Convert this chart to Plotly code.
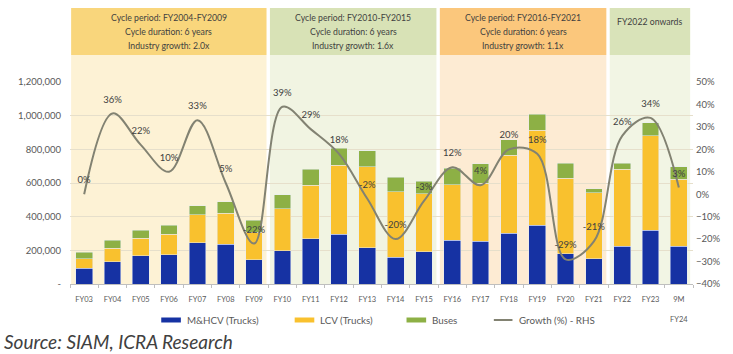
import plotly.graph_objects as go

# ---------------- data ----------------
categories = ["FY03", "FY04", "FY05", "FY06", "FY07", "FY08", "FY09", "FY10", "FY11",
              "FY12", "FY13", "FY14", "FY15", "FY16", "FY17", "FY18", "FY19", "FY20",
              "FY21", "FY22", "FY23", "9M<br><br>FY24"]
mhcv = [94000, 133000, 169000, 175000, 245000, 236000, 145000, 199000, 269000, 295000,
        215000, 159000, 193000, 259000, 253000, 302000, 349000, 179000, 149000, 225000,
        318000, 225000]
lcv = [55000, 80000, 104000, 122000, 167000, 183000, 163000, 249000, 318000, 411000,
       482000, 388000, 344000, 332000, 345000, 464000, 563000, 448000, 394000, 458000,
       562000, 398000]
buses = [40000, 46000, 45000, 51000, 52000, 69000, 70000, 83000, 96000, 100000,
         95000, 86000, 74000, 96000, 115000, 90000, 97000, 89000, 24000, 33000,
         79000, 74000]
growth = [0.00, 0.36, 0.22, 0.10, 0.33, 0.05, -0.22, 0.39, 0.29, 0.18, -0.02, -0.20,
          -0.03, 0.12, 0.04, 0.20, 0.18, -0.29, -0.21, 0.26, 0.34, 0.03]
growth_labels = ["0%", "36%", "22%", "10%", "33%", "5%", "-22%", "39%", "29%", "18%",
                 "-2%", "-20%", "-3%", "12%", "4%", "20%", "18%", "-29%", "-21%", "26%",
                 "34%", "3%"]
left_tickvals = [0, 200000, 400000, 600000, 800000, 1000000, 1200000]
left_ticktext = ["-", "200,000", "400,000", "600,000", "800,000", "1,000,000", "1,200,000"]
series_names = ["M&HCV (Trucks)", "LCV (Trucks)", "Buses", "Growth (%) - RHS"]
series_colors = ["#1632A3", "#F9C12E", "#8DB045", "#828272"]

cycles = [
    {"start": 0, "end": 6,
     "lines": ["Cycle period: FY2004-FY2009", "Cycle duration: 6 years", "Industry growth: 2.0x"],
     "head": "#F9D67C", "band": "#FDF2D5"},
    {"start": 7, "end": 12,
     "lines": ["Cycle period: FY2010-FY2015", "Cycle duration: 6 years", "Industry growth: 1.6x"],
     "head": "#D8E2B6", "band": "#F1F4E2"},
    {"start": 13, "end": 18,
     "lines": ["Cycle period: FY2016-FY2021", "Cycle duration: 6 years", "Industry growth: 1.1x"],
     "head": "#FBC77C", "band": "#FDEBD3"},
    {"start": 19, "end": 21,
     "lines": ["FY2022 onwards"],
     "head": "#D9E3B9", "band": "#F2F5E4"},
]

FONT = "Lato"
n = len(categories)

# plot area geometry (pixels) used to convert layout positions to paper coords
L, R, T, B, W, H = 70, 28, 82, 70, 733, 354
PW, PH = W - L - R, H - T - B


def px(xp):
    return (xp - L) / PW


def py(yp):
    return (T + PH - yp) / PH


fig = go.Figure()
fig.add_trace(go.Bar(x=categories, y=mhcv, name=series_names[0], marker_color=series_colors[0]))
fig.add_trace(go.Bar(x=categories, y=lcv, name=series_names[1], marker_color=series_colors[1]))
fig.add_trace(go.Bar(x=categories, y=buses, name=series_names[2], marker_color=series_colors[2]))
fig.add_trace(go.Scatter(x=categories, y=growth, name=series_names[3], yaxis="y2",
                         mode="lines+markers+text", text=growth_labels, textposition="top center",
                         textfont=dict(family=FONT, size=9.5, color="#404040"),
                         marker=dict(size=12, color="rgba(0,0,0,0)"),
                         line=dict(color=series_colors[3], width=2, shape="spline", smoothing=1.0)))

shapes = []
annotations = []
gap = 0.06
line_y = [1.317, 1.25, 1.183]
for k, c in enumerate(cycles):
    x0 = (c["start"] + (gap if k > 0 else 0.04)) / n
    x1 = (c["end"] + 1 - gap) / n
    if k == len(cycles) - 1:
        x1 = (c["end"] + 1 - 0.1) / n
    shapes.append(dict(type="rect", xref="paper", yref="paper", x0=x0, x1=x1, y0=1.134, y1=1.366,
                       fillcolor=c["head"], line=dict(width=0), layer="below"))
    shapes.append(dict(type="rect", xref="paper", yref="paper", x0=x0, x1=x1, y0=0, y1=1.134,
                       fillcolor=c["band"], line=dict(width=0), layer="below"))
    for j, txt in enumerate(c["lines"]):
        yy = line_y[j] if len(c["lines"]) > 1 else 1.30
        annotations.append(dict(xref="paper", yref="paper", x=(x0 + x1) / 2, y=yy,
                                xanchor="center", yanchor="middle",
                                text=txt, showarrow=False,
                                font=dict(family=FONT, size=8.7, color="#3F3F3F")))

# custom legend (flat swatches like the reference)
legend_x = [163, 299, 413, 502]
legend_y = 320
for i, (nm, col) in enumerate(zip(series_names, series_colors)):
    x0 = legend_x[i]
    if i < 3:
        shapes.append(dict(type="rect", xref="paper", yref="paper",
                           x0=px(x0), x1=px(x0 + 20), y0=py(legend_y + 2.5), y1=py(legend_y - 2.5),
                           fillcolor=col, line=dict(width=0)))
    else:
        shapes.append(dict(type="line", xref="paper", yref="paper",
                           x0=px(x0), x1=px(x0 + 19), y0=py(legend_y), y1=py(legend_y),
                           line=dict(color=col, width=2)))
    annotations.append(dict(xref="paper", yref="paper", x=px(x0 + 24), y=py(legend_y),
                            xanchor="left", yanchor="middle", showarrow=False, text=nm,
                            font=dict(family=FONT, size=9.8, color="#595959")))

annotations.append(dict(xref="paper", yref="paper", x=px(1), y=py(341), xanchor="left",
                        yanchor="middle", showarrow=False,
                        text="<i>Source: SIAM, ICRA Research</i>",
                        font=dict(family=FONT, size=19, color="#404040")))

fig.update_layout(
    width=W, height=H,
    margin=dict(l=L, r=R, t=T, b=B),
    barmode="stack", bargap=0.41,
    paper_bgcolor="white", plot_bgcolor="rgba(0,0,0,0)",
    font=dict(family=FONT, size=8, color="#595959"),
    shapes=shapes, annotations=annotations,
    showlegend=False,
    xaxis=dict(type="category", range=[-0.5, n - 0.5], showgrid=False, showline=True,
               linecolor="#BFBFBF", linewidth=1, ticks="outside", tickson="boundaries",
               ticklen=3, tickcolor="#BFBFBF", tickangle=0, ticklabelstandoff=8,
               tickfont=dict(family=FONT, size=7.5, color="#595959")),
    yaxis=dict(range=[0, 1200000], tickvals=left_tickvals, ticktext=left_ticktext,
               showgrid=True, gridcolor="#E6DFCB", gridwidth=1, zeroline=False,
               ticks="", ticklabelstandoff=8,
               tickfont=dict(family=FONT, size=9.5, color="#595959")),
    yaxis2=dict(range=[-0.4, 0.5], overlaying="y", side="right", dtick=0.1,
                tickformat=".0%", showgrid=False, zeroline=False, ticklabelstandoff=2,
                tickfont=dict(family=FONT, size=9.5, color="#595959")),
)

fig.write_html("out.html", config={"displayModeBar": False},
               post_script="document.body.style.margin='0px';document.body.style.padding='0px';")
